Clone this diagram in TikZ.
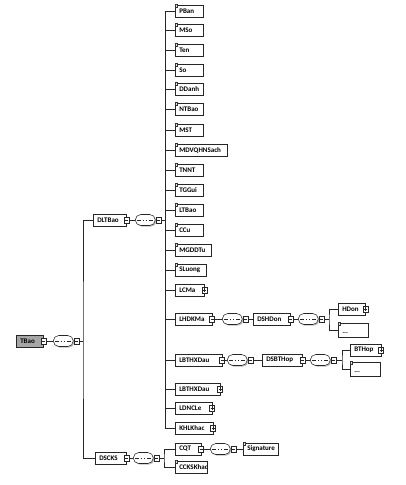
\documentclass[tikz,border=0pt]{standalone}
\usepackage{fontspec}
\setmainfont{Carlito}
\usetikzlibrary{shapes.misc,shadows}
\tikzset{
  shad/.style={drop shadow={shadow xshift=1.2pt, shadow yshift=-1.2pt, fill=black!25, opacity=1}},
  el/.style={rectangle, draw=black!85, fill=white, line width=0.55pt, anchor=west,
    minimum height=12pt, inner xsep=4pt, inner ysep=0pt, text width=#1pt, align=left,
    font=\bfseries\fontsize{7}{8}\selectfont, text=black, shad,
    execute at begin node={\hyphenpenalty=10000\relax}},
  lficon/.style={rectangle, draw=black!80, fill=black!10, line width=0.3pt,
    minimum size=2.8pt, inner sep=0pt, anchor=north west, xshift=-0.4pt, yshift=0.4pt},
  leaf/.style={el=#1, label={[lficon]north west:}},
  anyel/.style={el=#1, minimum height=14pt, label={[lficon]north west:}},
  rootel/.style={el=#1, fill=black!35},
  hbox/.style={rectangle, draw=black!85, fill=white, line width=0.4pt,
    minimum width=5pt, minimum height=6pt, inner sep=0pt},
  hm/.style={hbox, path picture={\draw[line width=0.4pt]
    ([xshift=1pt]path picture bounding box.west) -- ([xshift=-1pt]path picture bounding box.east);}},
  hp/.style={hbox, path picture={\draw[line width=0.4pt]
    ([xshift=1pt]path picture bounding box.west) -- ([xshift=-1pt]path picture bounding box.east)
    ([yshift=-1pt]path picture bounding box.north) -- ([yshift=1pt]path picture bounding box.south);}},
  seq/.style={rounded rectangle, draw=black!85, fill=white, line width=0.55pt,
    minimum width=20pt, minimum height=11pt, inner sep=0pt, anchor=west, shad,
    path picture={\draw[line width=0.6pt]
      ([xshift=2pt]path picture bounding box.west) -- ([xshift=-2pt]path picture bounding box.east);
      \foreach \d in {-2.8,0,2.8} {\fill ([xshift=\d pt]path picture bounding box.center) +(-1,-1) rectangle +(1,1);}}},
  seqh/.style={hm, anchor=west},
  conn/.style={draw=black!85, line width=0.6pt},
}
\begin{document}
\begin{tikzpicture}[x=1pt,y=-1pt]
\useasboundingbox (0,0) rectangle (406,485);

% root
\node[rootel=19] (TBao) at (16,341) {TBao};
\node[hm] (TBaoH) at (TBao.east) {};
\node[seq] (S0) at (53,341) {};
\node[seqh] (S0H) at (S0.east) {};
\coordinate (B0) at (83,341);

% DLTBao
\node[el=25] (DLTBao) at (93,220) {DLTBao};
\node[hm] (DLTBaoH) at (DLTBao.east) {};
\node[seq] (S1) at (135,220) {};
\node[seqh] (S1H) at (S1.east) {};
\coordinate (B1) at (165,220);

\node[leaf=20] (PBan) at (175,11) {PBan};
\node[leaf=20] (MSo) at (175,30) {MSo};
\node[leaf=20] (Ten) at (175,50) {Ten};
\node[leaf=20] (So) at (175,70) {So};
\node[leaf=20] (DDanh) at (175,89) {DDanh};
\node[leaf=20] (NTBao) at (175,109) {NTBao};
\node[leaf=20] (MST) at (175,130) {MST};
\node[leaf=44] (MDVQHNSach) at (175,150) {MDVQHNSach};
\node[leaf=20] (TNNT) at (175,170) {TNNT};
\node[leaf=20] (TGGui) at (175,190) {TGGui};
\node[leaf=20] (LTBao) at (175,210) {LTBao};
\node[leaf=20] (CCu) at (175,230) {CCu};
\node[leaf=28] (MGDDTu) at (175,250) {MGDDTu};
\node[leaf=23] (SLuong) at (175,270) {SLuong};
\node[el=21] (LCMa) at (175,290) {LCMa};
\node[hp] (LCMaH) at (LCMa.east) {};
\node[el=28.5] (LHDKMa) at (175,319) {LHDKMa};
\node[hm] (LHDKMaH) at (LHDKMa.east) {};
\node[el=38.5] (LBTHXDau) at (175,360) {LBTHXDau};
\node[hm] (LBTHXDauH) at (LBTHXDau.east) {};
\node[el=36.5] (LBTHXDauB) at (175,389) {LBTHXDau};
\node[hp] (LBTHXDauBH) at (LBTHXDauB.east) {};
\node[el=28.5] (LDNCLe) at (175,408) {LDNCLe};
\node[hp] (LDNCLeH) at (LDNCLe.east) {};
\node[el=29.5] (KHLKhac) at (175,428) {KHLKhac};
\node[hp] (KHLKhacH) at (KHLKhac.east) {};

% LHDKMa chain
\node[seq] (S2) at (222,319) {};
\node[seqh] (S2H) at (S2.east) {};
\node[el=29] (DSHDon) at (253,319) {DSHDon};
\node[hm] (DSHDonH) at (DSHDon.east) {};
\node[seq] (S3) at (298,319) {};
\node[seqh] (S3H) at (S3.east) {};
\coordinate (B3) at (329,319);
\node[el=19] (HDon) at (338,309) {HDon};
\node[hp] (HDonH) at (HDon.east) {};
\node[anyel=22] (Any1) at (338,330) {\raisebox{-3.5pt}[0pt][0pt]{...}};

% LBTHXDau chain
\node[seq] (S4) at (227,360) {};
\node[seqh] (S4H) at (S4.east) {};
\node[el=32] (DSBTHop) at (262,360) {DSBTHop};
\node[hm] (DSBTHopH) at (DSBTHop.east) {};
\node[seq] (S5) at (310,360) {};
\node[seqh] (S5H) at (S5.east) {};
\coordinate (B5) at (342,360);
\node[el=22.5] (BTHop) at (350,350) {BTHop};
\node[hp] (BTHopH) at (BTHop.east) {};
\node[anyel=22] (Any2) at (350,369) {\raisebox{-3.5pt}[0pt][0pt]{...}};

% DSCKS
\node[el=23] (DSCKS) at (95,458) {DSCKS};
\node[hm] (DSCKSH) at (DSCKS.east) {};
\node[seq] (S6) at (133,458) {};
\node[seqh] (S6H) at (S6.east) {};
\coordinate (B6) at (164,458);
\node[el=17.5] (CQT) at (175,449) {CQT};
\node[hm] (CQTH) at (CQT.east) {};
\node[seq] (S7) at (210,449) {};
\node[seqh] (S7H) at (S7.east) {};
\node[leaf=27] (Signature) at (243,449) {Signature};
\node[leaf=24] (CCKSKhac) at (175,467) {CCKSKhac};

% connectors
\draw[conn] (TBaoH.east) -- (S0.west);
\draw[conn] (S0H.east) -- (B0);
\draw[conn] (DLTBao.west) -| (B0) |- (DSCKS.west);

\draw[conn] (DLTBaoH.east) -- (S1.west);
\draw[conn] (S1H.east) -- (B1);
\draw[conn] (PBan.west -| B1) -- (KHLKhac.west -| B1);
\foreach \n in {PBan,MSo,Ten,So,DDanh,NTBao,MST,MDVQHNSach,TNNT,TGGui,LTBao,CCu,MGDDTu,SLuong,LCMa,LHDKMa,LBTHXDau,LBTHXDauB,LDNCLe,KHLKhac}
  \draw[conn] (\n.west -| B1) -- (\n.west);

\draw[conn] (LHDKMaH.east) -- (S2.west);
\draw[conn] (S2H.east) -- (DSHDon.west);
\draw[conn] (DSHDonH.east) -- (S3.west);
\draw[conn] (S3H.east) -- (B3);
\draw[conn] (HDon.west) -| (B3) |- (Any1.west);

\draw[conn] (LBTHXDauH.east) -- (S4.west);
\draw[conn] (S4H.east) -- (DSBTHop.west);
\draw[conn] (DSBTHopH.east) -- (S5.west);
\draw[conn] (S5H.east) -- (B5);
\draw[conn] (BTHop.west) -| (B5) |- (Any2.west);

\draw[conn] (DSCKSH.east) -- (S6.west);
\draw[conn] (S6H.east) -- (B6);
\draw[conn] (CQT.west) -| (B6) |- (CCKSKhac.west);
\draw[conn] (CQTH.east) -- (S7.west);
\draw[conn] (S7H.east) -- (Signature.west);
\end{tikzpicture}
\end{document}
